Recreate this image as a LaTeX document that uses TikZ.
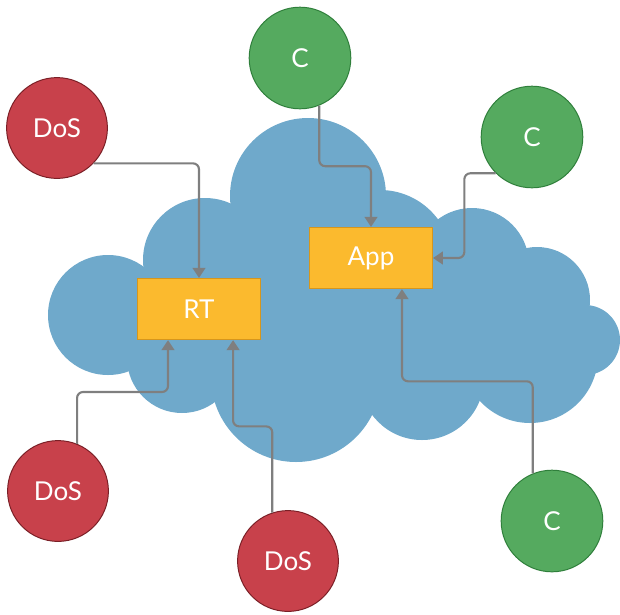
\documentclass[tikz,border=0pt]{standalone}
\usepackage{fontspec}
\setmainfont{Lato}
\usetikzlibrary{arrows.meta,calc}
\definecolor{Sky}{HTML}{6FA9CB}
\definecolor{BoxFill}{HTML}{FBBA2E}
\definecolor{BoxEdge}{HTML}{D6961C}
\definecolor{DosFill}{HTML}{C8414B}
\definecolor{DosEdge}{HTML}{7A1F26}
\definecolor{UserFill}{HTML}{55AA5F}
\definecolor{UserEdge}{HTML}{2F7F3B}
\definecolor{Wire}{HTML}{7F7F7F}
\tikzset{
  label/.style={text=white,font=\fontsize{18.5}{22}\selectfont},
  attacker/.style={circle,draw=DosEdge,fill=DosFill,line width=.7pt,minimum size=2.52cm,label},
  client/.style={circle,draw=UserEdge,fill=UserFill,line width=.7pt,minimum size=2.54cm,label},
  server/.style={draw=BoxEdge,fill=BoxFill,line width=.8pt,minimum width=3.07cm,minimum height=1.53cm,label},
  flow/.style={-{Triangle[length=2.5mm,width=3.2mm]},draw=Wire,line width=1.5pt,rounded corners=.15cm}
}
\begin{document}
\begin{tikzpicture}[x=0.025cm,y=-0.025cm]
  \useasboundingbox (0,0) rectangle (620,614);
  % cloud: spine polygon plus overlapping puffs
  \fill[Sky] (108,315) -- (205,260) -- (308,196) -- (380,262) -- (472,265) -- (537,300)
    -- (585,340) -- (530,355) -- (422,378) -- (296,377) -- (182,358) -- cycle;
  \foreach \cx/\cy/\r in {108/315/60, 205/260/62, 308/196/78, 380/262/72, 472/265/57,
      537/300/53, 585/340/35, 530/355/68, 422/378/62, 296/377/85, 182/358/55}
    \fill[Sky] (\cx,\cy) circle[radius=\r];

  % servers
  \node[server] (rt) at (199,309) {RT};
  \node[server] (app) at (371,258) {App};

  % clients and attackers
  \node[client] (ctop) at (300,58) {C};
  \node[client] (cright) at (532,137) {C};
  \node[client] (clow) at (552,521) {C};
  \node[attacker] (dosup) at (57,128) {DoS};
  \node[attacker] (dosleft) at (58,491) {DoS};
  \node[attacker] (dosmid) at (288,561) {DoS};

  % ports on the boxes
  \coordinate (rt-a) at ($(rt.south)!.5!(rt.south west)$);
  \coordinate (rt-b) at ($(rt.south)!.55!(rt.south east)$);
  \coordinate (app-a) at ($(app.south)!.5!(app.south east)$);

  \draw[flow] (dosup.-44) -| (rt.north);
  \draw[flow] (ctop.-68) |- ($(ctop.-68)!.5!(app.north)$) -| (app.north);
  \draw[flow] (cright.225) -| ($(cright.225)!.5!(app.east)$) |- (app.east);
  \draw[flow] (dosleft.68) |- ($(dosleft.68)!.5!(rt-a)$) -| (rt-a);
  \draw[flow] (dosmid.108) |- ($(dosmid.108)!.5!(rt-b)$) -| (rt-b);
  \draw[flow] (clow.112) |- ($(clow.112)!.5!(app-a)$) -| (app-a);
\end{tikzpicture}
\end{document}
